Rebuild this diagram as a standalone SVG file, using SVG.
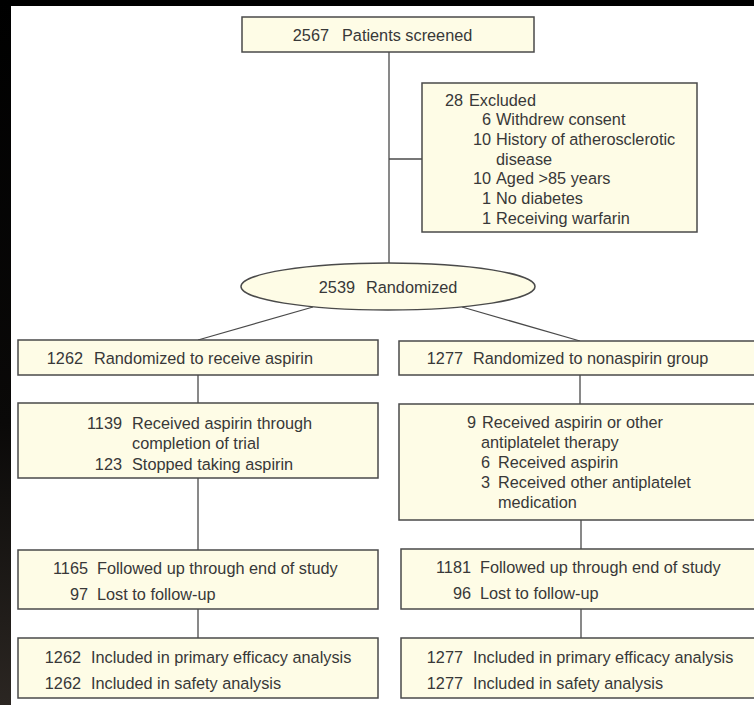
<svg xmlns="http://www.w3.org/2000/svg" width="754" height="705" viewBox="0 0 754 705">
<defs>
<linearGradient id="edge" x1="0" y1="0" x2="0" y2="1">
<stop offset="0" stop-color="#000"/>
<stop offset="0.6" stop-color="#0a0908"/>
<stop offset="1" stop-color="#2b2622"/>
</linearGradient>
</defs>
<style>
.box{fill:#fefce6;stroke:#4a4a4a;stroke-width:1.5}
.ln{stroke:#4a4a4a;stroke-width:1.3;fill:none}
text{font-family:"Liberation Sans",Arial,Helvetica,sans-serif;font-size:16.3px;fill:#383838}
.n{text-anchor:end}
</style>
<rect x="0" y="0" width="754" height="705" fill="url(#edge)"/>
<rect x="11" y="6" width="743" height="699" fill="#fff"/>
<g id="connectors">
<line class="ln" x1="389" y1="52" x2="389" y2="263"/>
<line class="ln" x1="389" y1="159" x2="422" y2="159"/>
<line class="ln" x1="313" y1="307" x2="198" y2="340"/>
<line class="ln" x1="462" y1="307" x2="580" y2="341"/>
<line class="ln" x1="198" y1="375" x2="198" y2="403"/>
<line class="ln" x1="198" y1="478" x2="198" y2="550"/>
<line class="ln" x1="198" y1="609" x2="198" y2="638"/>
<line class="ln" x1="580" y1="375" x2="580" y2="404"/>
<line class="ln" x1="581" y1="520" x2="581" y2="549"/>
<line class="ln" x1="581" y1="609" x2="581" y2="638"/>
</g>
<g id="screened">
<rect class="box" x="242" y="17" width="292" height="35"/>
<text class="n" x="329" y="40.5">2567</text><text x="342" y="40.5">Patients screened</text>
</g>
<g id="excluded">
<rect class="box" x="422" y="83" width="275" height="149"/>
<text class="n" x="463" y="105.5">28</text><text x="469" y="105.5">Excluded</text>
<text class="n" x="491" y="125.2">6</text><text x="496" y="125.2">Withdrew consent</text>
<text class="n" x="491" y="144.9">10</text><text x="496" y="144.9">History of atherosclerotic</text>
<text x="496" y="164.6">disease</text>
<text class="n" x="491" y="184.3">10</text><text x="496" y="184.3">Aged &gt;85 years</text>
<text class="n" x="491" y="204">1</text><text x="496" y="204">No diabetes</text>
<text class="n" x="491" y="223.7">1</text><text x="496" y="223.7">Receiving warfarin</text>
</g>
<g id="randomized">
<ellipse class="box" cx="388" cy="286.5" rx="147" ry="23.5"/>
<text class="n" x="355" y="292.5">2539</text><text x="366" y="292.5">Randomized</text>
</g>
<g id="aspirin">
<rect class="box" x="18" y="340" width="360" height="35"/>
<text class="n" x="83" y="363.5">1262</text><text x="94" y="363.5">Randomized to receive aspirin</text>
</g>
<g id="nonaspirin">
<rect class="box" x="399" y="341" width="362" height="34"/>
<text class="n" x="463" y="363.5">1277</text><text x="473" y="363.5">Randomized to nonaspirin group</text>
</g>
<g id="aspirin-adherence">
<rect class="box" x="18" y="403" width="360" height="75"/>
<text class="n" x="122" y="428.5">1139</text><text x="132" y="428.5">Received aspirin through</text>
<text x="132" y="449">completion of trial</text>
<text class="n" x="122" y="469.5">123</text><text x="132" y="469.5">Stopped taking aspirin</text>
</g>
<g id="nonaspirin-adherence">
<rect class="box" x="399" y="404" width="362" height="116"/>
<text class="n" x="476" y="427.5">9</text><text x="482" y="427.5">Received aspirin or other</text>
<text x="481" y="447.5">antiplatelet therapy</text>
<text class="n" x="490" y="467.5">6</text><text x="498" y="467.5">Received aspirin</text>
<text class="n" x="490" y="487.5">3</text><text x="498" y="487.5">Received other antiplatelet</text>
<text x="498" y="507.5">medication</text>
</g>
<g id="aspirin-followup">
<rect class="box" x="18" y="550" width="360" height="59"/>
<text class="n" x="88" y="573.5">1165</text><text x="97" y="573.5">Followed up through end of study</text>
<text class="n" x="88" y="599.5">97</text><text x="97" y="599.5">Lost to follow-up</text>
</g>
<g id="nonaspirin-followup">
<rect class="box" x="401" y="549" width="360" height="60"/>
<text class="n" x="471" y="572.5">1181</text><text x="480" y="572.5">Followed up through end of study</text>
<text class="n" x="471" y="598.5">96</text><text x="480" y="598.5">Lost to follow-up</text>
</g>
<g id="aspirin-analysis">
<rect class="box" x="18" y="638" width="360" height="60"/>
<text class="n" x="81" y="662.5">1262</text><text x="91" y="662.5">Included in primary efficacy analysis</text>
<text class="n" x="81" y="688.5">1262</text><text x="91" y="688.5">Included in safety analysis</text>
</g>
<g id="nonaspirin-analysis">
<rect class="box" x="401" y="638" width="360" height="60"/>
<text class="n" x="463" y="662.5">1277</text><text x="473" y="662.5">Included in primary efficacy analysis</text>
<text class="n" x="463" y="688.5">1277</text><text x="473" y="688.5">Included in safety analysis</text>
</g>
</svg>
